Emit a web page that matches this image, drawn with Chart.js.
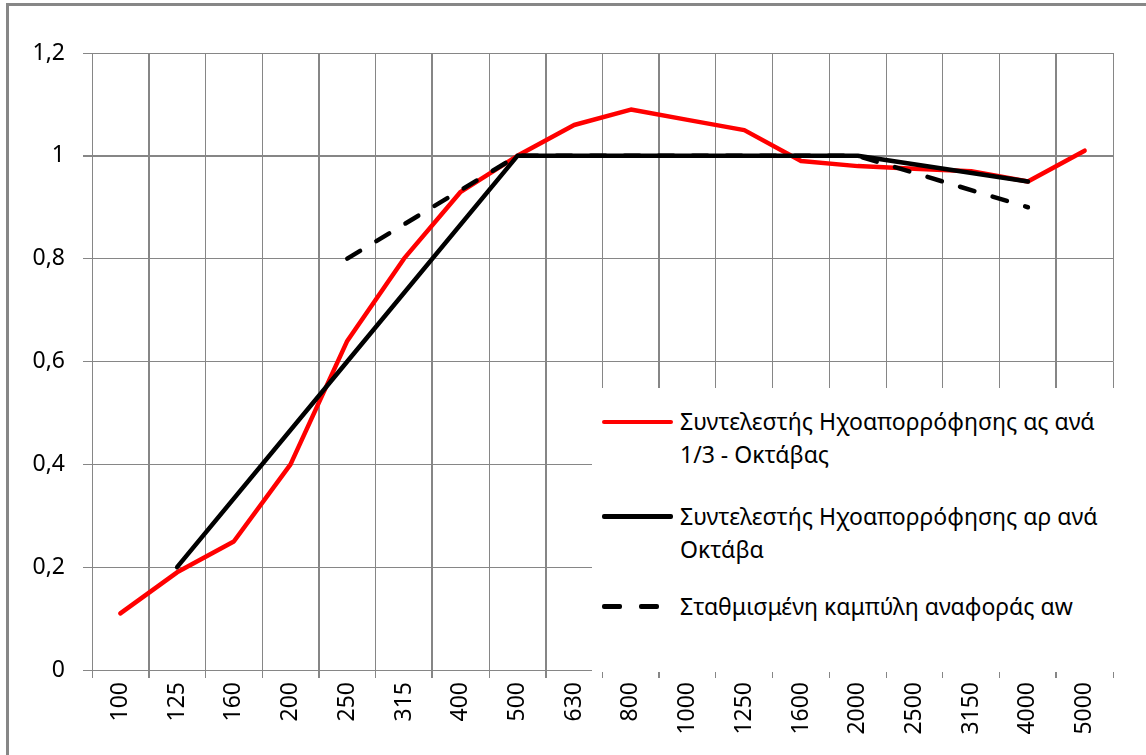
<!DOCTYPE html>
<html>
<head>
<meta charset="utf-8">
<script src="https://cdn.jsdelivr.net/npm/chart.js@4.4.1/dist/chart.umd.min.js"></script>
<style>
    html, body { margin: 0; padding: 0; background: #fff; }
    #wrap { position: relative; width: 1146px; height: 755px; overflow: hidden; font-family: 'Noto Sans', sans-serif; }
    #frame { position: absolute; left: 6px; top: 3px; width: 1200px; height: 800px; border-left: 3px solid #878787; border-top: 3px solid #878787; pointer-events: none; }
    #legend { position: absolute; left: 592px; top: 388px; width: 524px; height: 284px; background: #fff; }
    .item { position: absolute; left: 0; width: 524px; }
    .swatch { position: absolute; left: 10px; width: 71px; }
    .label { position: absolute; left: 88px; font-size: 23px; line-height: 33px; color: #000; white-space: nowrap; }
</style>
</head>
<body>
<div id="wrap">
    <canvas id="chart" width="1146" height="755"></canvas>
    <div id="frame"></div>
    <div id="legend"></div>
</div>
<script>
    // Frequencies (Hz), 1/3-octave bands
    const freqs = ['100', '125', '160', '200', '250', '315', '400', '500', '630', '800',
                   '1000', '1250', '1600', '2000', '2500', '3150', '4000', '5000'];

    // αs per 1/3 octave
    const alphaS = [0.11, 0.19, 0.25, 0.40, 0.64, 0.80, 0.93, 1.00, 1.06, 1.09,
                    1.07, 1.05, 0.99, 0.98, 0.975, 0.97, 0.95, 1.01];

    // αp per octave
    const alphaP = [null, 0.20, null, null, 0.60, null, null, 1.00, null, null,
                    1.00, null, null, 1.00, null, null, 0.95, null];

    // shifted reference curve αw
    const refCurve = [null, null, null, null, 0.80, null, null, 1.00, null, null,
                      1.00, null, null, 1.00, null, null, 0.90, null];

    const seriesNames = [
        ['Συντελεστής Ηχοαπορρόφησης ας ανά', '1/3 - Οκτάβας'],
        ['Συντελεστής Ηχοαπορρόφησης αρ ανά', 'Οκτάβα'],
        ['Σταθμισμένη καμπύλη αναφοράς αw']
    ];

    const gridColor = '#868686';
    const thickX = [1, 4, 6, 8, 10, 17];
    const tickFont = { family: 'Noto Sans', size: 23 };

    new Chart(document.getElementById('chart'), {
        type: 'line',
        data: {
            labels: freqs,
            datasets: [
                { label: seriesNames[0].join(' '), data: alphaS, borderColor: '#ff0000', borderWidth: 4.5, order: 2 },
                { label: seriesNames[1].join(' '), data: alphaP, borderColor: '#000000', borderWidth: 4.5, spanGaps: true, order: 1 },
                { label: seriesNames[2][0], data: refCurve, borderColor: '#000000', borderWidth: 4.5, borderDash: [15, 19],
                  borderCapStyle: 'round', spanGaps: true, order: 0 }
            ]
        },
        options: {
            responsive: false,
            animation: false,
            devicePixelRatio: 1,
            layout: { padding: { top: 53, right: 33, left: 0, bottom: 0 } },
            elements: {
                point: { radius: 0 },
                line: { tension: 0, borderCapStyle: 'round', borderJoinStyle: 'round' }
            },
            plugins: { legend: { display: false }, tooltip: { enabled: false } },
            scales: {
                x: {
                    offset: true,
                    afterFit: (s) => { s.height = 85; },
                    grid: {
                        offset: true,
                        color: gridColor,
                        tickLength: 8,
                        lineWidth: (ctx) => thickX.includes(ctx.index) ? 2 : 1
                    },
                    border: { display: true, color: gridColor, width: 1 },
                    ticks: {
                        color: '#000',
                        font: tickFont,
                        minRotation: 90,
                        maxRotation: 90,
                        padding: 4,
                        autoSkip: false
                    }
                },
                y: {
                    min: 0,
                    max: 1.2,
                    afterFit: (s) => { s.width = 92; },
                    grid: {
                        color: gridColor,
                        tickLength: 9,
                        lineWidth: (ctx) => (ctx.tick && Math.abs(ctx.tick.value - 1) < 1e-6) ? 2 : 1
                    },
                    border: { display: false },
                    ticks: {
                        stepSize: 0.2,
                        color: '#000',
                        font: tickFont,
                        padding: 18,
                        callback: (v) => String(Number(v.toFixed(1))).replace('.', ',')
                    }
                }
            }
        }
    });

    // legend drawn as an overlay box, like the original spreadsheet chart
    const legend = document.getElementById('legend');
    const legendRows = [
        { top: 17, swatch: 'solid', color: '#ff0000', width: 4 },
        { top: 112, swatch: 'solid', color: '#000000', width: 5 },
        { top: 202, swatch: 'dash', color: '#000000', width: 5 }
    ];
    legendRows.forEach((row, i) => {
        const item = document.createElement('div');
        item.className = 'item';
        item.style.top = row.top + 'px';
        let sw;
        if (row.swatch === 'solid') {
            sw = `<div class="swatch" style="top:${16.5 - row.width / 2}px;height:${row.width}px;background:${row.color};border-radius:2px"></div>`;
        } else {
            sw = `<div class="swatch" style="top:${16.5 - row.width / 2}px;height:${row.width}px;">
                    <div style="position:absolute;left:0;width:20px;height:100%;background:${row.color};border-radius:2px"></div>
                    <div style="position:absolute;left:37px;width:20px;height:100%;background:${row.color};border-radius:2px"></div>
                  </div>`;
        }
        item.innerHTML = sw + `<div class="label">${seriesNames[i].join('<br>')}</div>`;
        legend.appendChild(item);
    });
</script>
</body>
</html>
